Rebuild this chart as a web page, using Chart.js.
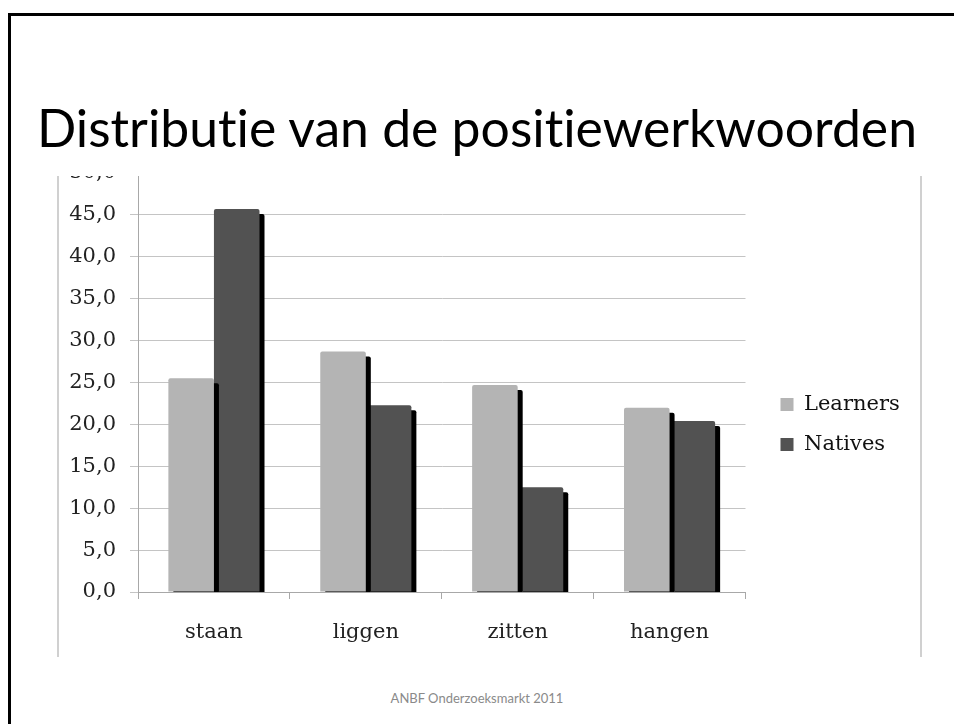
<!DOCTYPE html>
<html>
<head>
<meta charset="utf-8">
<script src="https://cdn.jsdelivr.net/npm/chart.js@4.4.1/dist/chart.umd.min.js"></script>
<style>
html, body { margin: 0; padding: 0; background: #fff; }
body { width: 954px; height: 724px; position: relative; overflow: hidden; }
#frame { position: absolute; left: 8px; top: 13px; width: 960px; height: 720px;
         border-left: 3px solid #000; border-top: 3px solid #000; }
#title { position: absolute; left: 0; top: 97px; width: 954px; text-align: center;
         font-family: Lato, sans-serif; font-size: 50px; line-height: 60px; white-space: nowrap; color: #000;
         font-variant-ligatures: none; font-feature-settings: "liga" 0; }
#title span { display: inline-block; }
#clip { position: absolute; left: 57px; top: 176px; width: 861px; height: 481px; overflow: hidden;
        border-left: 2px solid #d0d0d0; border-right: 2px solid #d0d0d0; }
#box { position: absolute; left: 0; top: -36px; width: 861px; height: 520px; }
#foot { position: absolute; left: 0; top: 690px; width: 954px; text-align: center;
        font-family: Lato, sans-serif; font-size: 13px; color: #8a8a8a; }
</style>
</head>
<body>
<div id="frame"></div>
<div id="title"><span id="titleText">Distributie van de positiewerkwoorden</span></div>
<div id="clip"><div id="box"><canvas id="chart" width="861" height="520"></canvas></div></div>
<div id="foot">ANBF Onderzoeksmarkt 2011</div>

<script>
const categories = ["staan", "liggen", "zitten", "hangen"];
const learners = [25.5, 28.7, 24.7, 22.0];
const natives = [45.7, 22.3, 12.5, 20.4];
const seriesNames = ["Learners", "Natives"];
const yMin = 0, yMax = 50, yStep = 5;

// titel op breedte zetten
const t = document.getElementById("titleText");
const w = t.getBoundingClientRect().width;
document.getElementById("title").style.fontSize = (50 * 880 / w).toFixed(1) + "px";

const serif = "'DejaVu Serif', serif";

// harde zwarte schaduw rechtsonder de staven
const barShadow = {
    id: "barShadow",
    beforeDatasetsDraw(chart) {
        const c = chart.ctx;
        c.save();
        c.shadowColor = "#000";
        c.shadowOffsetX = 5;
        c.shadowOffsetY = 5;
        c.shadowBlur = 0;
    },
    afterDatasetsDraw(chart) { chart.ctx.restore(); }
};

new Chart(document.getElementById("chart"), {
    type: "bar",
    data: {
        labels: categories,
        datasets: [
            { label: seriesNames[0], data: learners, backgroundColor: "#b4b4b4", borderRadius: 2, borderSkipped: "start", clip: 0 },
            { label: seriesNames[1], data: natives, backgroundColor: "#525252", borderRadius: 2, borderSkipped: "start", clip: 0 }
        ]
    },
    options: {
        responsive: false,
        animation: false,
        devicePixelRatio: 1,
        layout: { padding: { top: 33, right: 18, left: 0, bottom: 0 } },
        datasets: { bar: { categoryPercentage: 0.6, barPercentage: 1.0 } },
        plugins: {
            tooltip: { enabled: false },
            legend: {
                position: "right",
                align: "center",
                title: { display: true, text: " ", font: { size: 1 }, padding: { top: 0, bottom: 15 } },
                labels: {
                    boxWidth: 13, boxHeight: 13, padding: 19,
                    color: "#111",
                    font: { family: serif, size: 21 }
                }
            }
        },
        scales: {
            x: {
                grid: { drawOnChartArea: false, drawTicks: true, tickLength: 7, color: "#a8a8a8", offset: true },
                border: { color: "#a8a8a8" },
                ticks: { color: "#222", padding: 21, font: { family: serif, size: 21 } },
                afterFit(s) { s.height = 68; }
            },
            y: {
                min: yMin, max: yMax,
                grid: { color: "#c4c4c4", tickLength: 8 },
                border: { color: "#a8a8a8" },
                ticks: {
                    stepSize: yStep, color: "#222", padding: 14,
                    font: { family: serif, size: 21 },
                    callback: v => v.toFixed(1).replace(".", ",")
                },
                afterFit(s) { s.width = 79; }
            },
            gap: {
                type: "linear", position: "right", display: true,
                grid: { display: false }, border: { display: false },
                ticks: { display: false },
                afterFit(s) { s.width = 16; }
            }
        }
    },
    plugins: [barShadow]
});
</script>
</body>
</html>
